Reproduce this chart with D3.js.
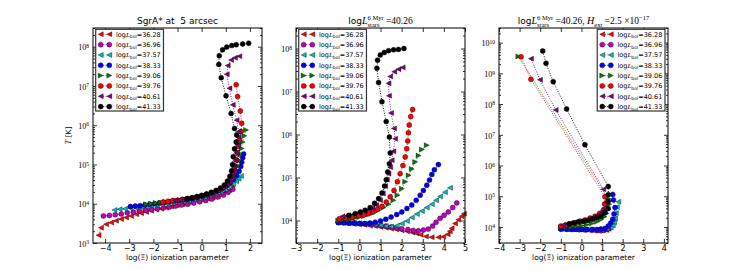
<!DOCTYPE html>
<html>
<head>
<meta charset="utf-8">
<script src="https://cdn.jsdelivr.net/npm/d3@7"></script>
<style>
body { margin: 0; background: #fff; }
svg { display: block; }
</style>
</head>
<body>
<div id="chart"></div>
<script>
var chart_width  = 743;
var chart_height = 270;

// legend values, log L_bol
var lbol_labels = ['36.28', '36.96', '37.57', '38.33', '39.06', '39.76', '40.61', '41.33'];

// every curve is a list of [log(Xi), log10(T)]
// panel 1 : SgrA* at 5 arcsec
var sgr_curves = [
    [[-4.27,3.20],[-4.17,3.39],[-3.96,3.48],[-3.75,3.52],[-3.55,3.57],[-3.34,3.61],[-3.13,3.65],[-2.92,3.69],[-2.71,3.73],[-2.51,3.76],[-2.30,3.79],[-2.09,3.82],[-1.88,3.85],[-1.68,3.87],[-1.47,3.90],[-1.26,3.93],[-1.03,3.96],[-0.79,3.99],[-0.58,4.02],[-0.37,4.04],[-0.16,4.07],[0.04,4.10],[0.25,4.13],[0.46,4.16],[0.67,4.20],[0.87,4.25],[1.02,4.30],[1.15,4.35],[1.25,4.42]],
    [[-4.07,3.69],[-3.82,3.70],[-3.58,3.72],[-3.33,3.74],[-3.08,3.77],[-2.83,3.79],[-2.58,3.82],[-2.33,3.84],[-2.08,3.86],[-1.83,3.88],[-1.58,3.90],[-1.33,3.92],[-1.08,3.94],[-0.83,3.97],[-0.58,3.99],[-0.33,4.02],[-0.08,4.05],[0.17,4.08],[0.42,4.12],[0.67,4.17],[0.90,4.22],[1.10,4.29],[1.29,4.37]],
    [[-3.61,3.84],[-3.40,3.86],[-3.18,3.87],[-2.96,3.89],[-2.74,3.90],[-2.52,3.92],[-2.30,3.93],[-2.08,3.95],[-1.86,3.96],[-1.64,3.98],[-1.42,3.99],[-1.20,4.01],[-0.98,4.03],[-0.76,4.05],[-0.54,4.07],[-0.32,4.10],[-0.10,4.13],[0.12,4.16],[0.34,4.20],[0.56,4.25],[0.78,4.30],[0.98,4.36],[1.15,4.43],[1.30,4.50],[1.43,4.57],[1.53,4.64],[1.63,4.71]],
    [[-2.95,3.93],[-2.75,3.94],[-2.55,3.95],[-2.35,3.97],[-2.15,3.99],[-1.95,4.00],[-1.75,4.02],[-1.55,4.03],[-1.35,4.05],[-1.15,4.07],[-0.95,4.08],[-0.75,4.10],[-0.55,4.12],[-0.35,4.14],[-0.15,4.17],[0.05,4.20],[0.25,4.23],[0.45,4.27],[0.65,4.32],[0.85,4.38],[1.02,4.45],[1.18,4.53],[1.32,4.62],[1.45,4.72],[1.55,4.83],[1.62,4.95],[1.66,5.06],[1.70,5.17],[1.74,5.27]],
    [[-2.30,3.99],[-2.10,4.00],[-1.90,4.02],[-1.70,4.03],[-1.50,4.05],[-1.30,4.06],[-1.10,4.08],[-0.90,4.09],[-0.70,4.11],[-0.50,4.13],[-0.30,4.15],[-0.10,4.18],[0.10,4.21],[0.30,4.24],[0.50,4.28],[0.70,4.33],[0.88,4.39],[1.05,4.47],[1.20,4.57],[1.33,4.69],[1.43,4.82],[1.50,4.96],[1.55,5.10],[1.60,5.25],[1.65,5.41],[1.70,5.57],[1.77,5.73],[1.84,5.88]],
    [[-1.61,4.04],[-1.40,4.06],[-1.20,4.08],[-1.00,4.09],[-0.80,4.11],[-0.60,4.13],[-0.40,4.15],[-0.20,4.18],[0.00,4.21],[0.20,4.24],[0.40,4.28],[0.60,4.33],[0.80,4.39],[0.97,4.46],[1.12,4.55],[1.24,4.66],[1.33,4.80],[1.39,4.95],[1.44,5.12],[1.48,5.30],[1.52,5.47],[1.57,5.63],[1.63,5.84],[1.66,6.05],[1.60,6.36],[1.49,6.73],[1.43,7.03]],
    [[-1.10,4.08],[-0.90,4.10],[-0.70,4.12],[-0.50,4.14],[-0.30,4.16],[-0.10,4.19],[0.10,4.22],[0.30,4.25],[0.50,4.29],[0.70,4.34],[0.88,4.41],[1.04,4.50],[1.17,4.62],[1.27,4.76],[1.34,4.92],[1.40,5.10],[1.45,5.30],[1.50,5.50],[1.53,5.70],[1.53,5.84],[1.45,6.13],[1.29,6.52],[1.15,6.94],[1.04,7.30],[1.08,7.52],[1.22,7.66],[1.38,7.72],[1.56,7.76]],
    [[-0.60,4.13],[-0.40,4.15],[-0.20,4.18],[0.00,4.21],[0.20,4.25],[0.40,4.29],[0.60,4.34],[0.78,4.40],[0.94,4.48],[1.07,4.58],[1.17,4.70],[1.24,4.84],[1.28,5.00],[1.31,5.20],[1.36,5.40],[1.43,5.57],[1.45,5.75],[1.36,5.92],[1.22,6.30],[1.01,6.75],[0.81,7.21],[0.71,7.55],[0.73,7.77],[0.87,7.92],[1.04,7.99],[1.25,8.03],[1.43,8.05],[1.70,8.07],[1.95,8.09]]
];

// panel 2 : log L_stars = 40.26
var stars_curves = [
    [[-1,3.95],[-0.75,3.94],[-0.5,3.93],[-0.25,3.92],[0,3.91],[0.25,3.90],[0.5,3.88],[0.75,3.87],[1,3.85],[1.25,3.83],[1.5,3.81],[1.75,3.79],[2,3.77],[2.25,3.75],[2.5,3.72],[2.7,3.70],[2.9,3.67],[3.15,3.63],[3.42,3.61],[3.74,3.61],[3.97,3.62],[4.18,3.68],[4.28,3.75],[4.37,3.82],[4.53,3.93],[4.68,4.02],[4.84,4.10],[4.95,4.16]],
    [[-1,3.96],[-0.75,3.95],[-0.5,3.94],[-0.25,3.935],[0,3.93],[0.25,3.92],[0.5,3.91],[0.75,3.90],[1,3.88],[1.25,3.87],[1.5,3.85],[1.75,3.83],[2,3.81],[2.3,3.79],[2.55,3.77],[2.79,3.76],[3.03,3.78],[3.26,3.80],[3.47,3.87],[3.63,3.96],[3.82,4.05],[4.01,4.12],[4.21,4.20],[4.42,4.30],[4.61,4.41]],
    [[-1,3.97],[-0.75,3.96],[-0.5,3.955],[-0.25,3.95],[0,3.94],[0.25,3.93],[0.5,3.92],[0.75,3.91],[1,3.89],[1.25,3.87],[1.5,3.86],[1.77,3.88],[2.01,3.93],[2.25,3.99],[2.48,4.07],[2.72,4.15],[2.96,4.22],[3.19,4.30],[3.43,4.38],[3.63,4.47],[3.82,4.56],[4.05,4.66],[4.29,4.76]],
    [[-1,3.95],[-0.75,3.95],[-0.5,3.94],[-0.25,3.94],[0,3.93],[0.25,3.93],[0.5,3.94],[0.75,3.96],[1,3.99],[1.25,4.03],[1.5,4.08],[1.77,4.14],[2.01,4.20],[2.25,4.28],[2.48,4.36],[2.69,4.47],[2.88,4.59],[3.03,4.70],[3.19,4.82],[3.32,4.94],[3.43,5.07],[3.55,5.18],[3.74,5.30]],
    [[-1,4.00],[-0.8,4.01],[-0.6,4.03],[-0.4,4.04],[-0.2,4.06],[0,4.08],[0.2,4.10],[0.43,4.14],[0.67,4.18],[0.91,4.24],[1.14,4.30],[1.38,4.38],[1.61,4.47],[1.80,4.59],[2.01,4.74],[2.17,4.90],[2.33,5.05],[2.48,5.20],[2.64,5.36],[2.80,5.51],[2.96,5.65],[3.19,5.75]],
    [[-0.95,4.04],[-0.67,4.05],[-0.35,4.08],[-0.04,4.11],[0.2,4.13],[0.43,4.16],[0.64,4.20],[0.86,4.26],[1.07,4.33],[1.27,4.43],[1.46,4.55],[1.64,4.70],[1.80,4.90],[1.93,5.09],[2.06,5.28],[2.17,5.48],[2.24,5.67],[2.29,5.85],[2.32,6.04],[2.36,6.22],[2.43,6.42],[2.52,6.58]],
    [[-0.8,4.10],[-0.52,4.12],[-0.25,4.15],[0,4.18],[0.25,4.22],[0.45,4.25],[0.62,4.29],[0.80,4.36],[0.98,4.47],[1.11,4.63],[1.22,4.80],[1.30,4.95],[1.38,5.09],[1.46,5.24],[1.53,5.40],[1.61,5.61],[1.69,5.90],[1.64,6.14],[1.50,6.50],[1.40,6.90],[1.38,7.19],[1.46,7.35],[1.65,7.46],[1.85,7.52],[2.05,7.56]],
    [[-0.5,4.12],[-0.2,4.16],[0.04,4.20],[0.27,4.24],[0.51,4.30],[0.72,4.40],[0.91,4.51],[1.07,4.64],[1.19,4.80],[1.27,4.95],[1.34,5.13],[1.42,5.32],[1.46,5.57],[1.42,5.94],[1.27,6.30],[1.07,6.76],[0.91,7.21],[0.83,7.54],[0.86,7.73],[0.99,7.85],[1.18,7.91],[1.38,7.95],[1.62,7.97],[1.85,7.98],[2.11,8.00]]
];

// panel 3 : log L_stars = 40.26, H_ext = 2.5e-17
var hext_curves = [
    [[-1,3.93],[-0.75,3.93],[-0.5,3.92],[-0.25,3.92],[0,3.91],[0.25,3.91],[0.5,3.90],[0.75,3.90],[1.0,3.89],[1.2,3.90],[1.32,3.94]],
    [[-1,3.93],[-0.7,3.92],[-0.4,3.92],[-0.1,3.91],[0.2,3.90],[0.5,3.89],[0.75,3.88],[0.95,3.88],[1.1,3.89],[1.25,3.92],[1.35,3.97]],
    [[-1,3.95],[-0.7,3.94],[-0.4,3.93],[-0.1,3.93],[0.2,3.92],[0.5,3.92],[0.8,3.92],[1.05,3.93],[1.25,3.95],[1.42,3.98],[1.52,4.05],[1.58,4.15],[1.63,4.28],[1.67,4.45],[1.72,4.65],[1.79,4.82]],
    [[-1,3.93],[-0.75,3.93],[-0.5,3.92],[-0.25,3.92],[0,3.92],[0.25,3.92],[0.5,3.92],[0.75,3.92],[0.95,3.93],[1.14,3.95],[1.30,4.03],[1.42,4.13],[1.52,4.25],[1.58,4.42],[1.63,4.63],[1.55,4.88],[1.52,5.06]],
    [[-1,3.98],[-0.75,3.99],[-0.5,4.00],[-0.25,4.02],[0,4.04],[0.25,4.07],[0.5,4.11],[0.75,4.17],[0.95,4.24],[1.12,4.33],[1.22,4.44],[1.30,4.57],[1.35,4.74],[1.30,4.92],[-3.06,9.55]],
    [[-1,4.03],[-0.77,4.06],[-0.56,4.09],[-0.31,4.14],[-0.07,4.19],[0.17,4.23],[0.42,4.29],[0.66,4.35],[0.88,4.44],[1.06,4.55],[1.12,4.75],[1.14,4.98],[-2.45,8.81],[-2.93,9.54]],
    [[-0.9,4.06],[-0.65,4.09],[-0.4,4.12],[-0.15,4.16],[0.1,4.21],[0.35,4.26],[0.6,4.32],[0.82,4.40],[1.0,4.50],[1.12,4.62],[1.20,4.80],[1.06,5.23],[-1.25,7.81],[-2.01,8.79],[-2.45,9.48]],
    [[-0.6,4.10],[-0.4,4.13],[-0.17,4.16],[0.08,4.18],[0.31,4.21],[0.53,4.25],[0.74,4.30],[0.95,4.35],[1.14,4.46],[1.30,4.60],[1.30,4.84],[1.30,5.05],[1.30,5.32],[0.17,6.68],[-0.72,7.84],[-1.37,8.73],[-1.72,9.33],[-1.88,9.73]]
];

var x_ticks_1 = [-4, -3, -2, -1, 0, 1, 2];
var x_ticks_2 = [-3, -2, -1, 0, 1, 2, 3, 4, 5];
var x_ticks_3 = [-4, -3, -2, -1, 0, 1, 2, 3, 4];
// exponents of the labelled y ticks
var y_ticks_1 = [3, 4, 5, 6, 7, 8];
var y_ticks_2 = [4, 5, 6, 7, 8];
var y_ticks_3 = [4, 5, 6, 7, 8, 9, 10];

var colors  = ['#ff0000', '#bf00bf', '#00bfbf', '#0000ff', '#008000', '#ff0000', '#800080', '#000000'];
var markers = ['left', 'circle', 'left', 'circle', 'right', 'circle', 'left', 'circle'];

var SANS  = 'DejaVu Sans';
var SERIF = 'Liberation Serif';

var top_y = 28, bottom_y = 243, panel_w = 169;
var mk = 2.5;

var lstars = [{t: 'log', sz: 9}, {t: 'L', fam: SERIF, it: true, sz: 10},
              {stack: [{t: '6 Myr', fam: SERIF, sz: 6.5, dy: -4}, {t: 'stars', fam: SERIF, sz: 6.5, dy: 2.5}]},
              {t: ' =40.26', fam: SERIF, sz: 9.5}];

var panels = [
    {curves: sgr_curves, left: 93, x_dom: [-4.5, 2.5], y_dom: [1e3, 3e8],
     x_ticks: x_ticks_1, y_ticks: y_ticks_1, legend: 'left', y_label: true,
     title: [{t: 'SgrA* at  5 arcsec', sz: 9}]},
    {curves: stars_curves, left: 296, x_dom: [-3, 5], y_dom: [3e3, 3e8],
     x_ticks: x_ticks_2, y_ticks: y_ticks_2, legend: 'left', y_label: false,
     title: lstars},
    {curves: hext_curves, left: 499, x_dom: [-4, 4.2], y_dom: [3e3, 3e10],
     x_ticks: x_ticks_3, y_ticks: y_ticks_3, legend: 'right', y_label: false,
     title: lstars.slice(0, 3).concat([{t: ' =40.26, ', fam: SERIF, sz: 9.5}, {t: 'H', fam: SERIF, it: true, sz: 10},
             {stack: [{t: 'ext', fam: SERIF, sz: 6.5, dy: 2.5}]}, {t: ' =2.5 \u00d710', fam: SERIF, sz: 9.5},
             {stack: [{t: '\u221217', fam: SERIF, sz: 6.5, dy: -4}]}])}
];

var svg = d3.select('#chart')
            .append('svg')
            .attr('width', chart_width)
            .attr('height', chart_height);

// lays text pieces out left to right, stacked pieces share one x
function rich(g, pieces, x, y, anchor) {
    var grp = g.append('g');
    var cx = 0;
    pieces.forEach(function(p) {
        var parts = p.stack ? p.stack : [p];
        var w = 0;
        parts.forEach(function(q) {
            var t = grp.append('text')
                .attr('x', cx)
                .attr('y', q.dy || 0)
                .style('font-family', q.fam || SANS)
                .style('font-size', q.sz + 'px')
                .style('font-style', q.it ? 'italic' : 'normal')
                .style('white-space', 'pre')
                .attr('fill', '#000')
                .text(q.t);
            w = Math.max(w, t.node().getComputedTextLength());
        });
        cx += w;
    });
    var off = anchor === 'middle' ? -cx / 2 : (anchor === 'end' ? -cx : 0);
    grp.attr('transform', 'translate(' + (x + off) + ',' + y + ')');
    return cx;
}

function marker_path(kind, s) {
    if (kind === 'left')  return 'M' + (-s) + ',0L' + s + ',' + (-s) + 'L' + s + ',' + s + 'Z';
    if (kind === 'right') return 'M' + s + ',0L' + (-s) + ',' + (-s) + 'L' + (-s) + ',' + s + 'Z';
    return null;
}

function draw_marker(g, kind, color, x, y) {
    if (kind === 'circle') {
        g.append('circle').attr('cx', x).attr('cy', y).attr('r', mk)
            .attr('fill', color).attr('stroke', '#000').attr('stroke-width', 0.4);
    } else {
        g.append('path').attr('d', marker_path(kind, mk))
            .attr('transform', 'translate(' + x + ',' + y + ')')
            .attr('fill', color).attr('stroke', '#000').attr('stroke-width', 0.4);
    }
}

panels.forEach(function(p) {
    var g = svg.append('g');
    var x_scale = d3.scaleLinear().domain(p.x_dom).range([p.left, p.left + panel_w]);
    var y_scale = d3.scaleLog().domain(p.y_dom).range([bottom_y, top_y]);

    // minor ticks 2..9 of every decade
    var minor = [];
    for (var e = Math.floor(Math.log10(p.y_dom[0])); e <= Math.ceil(Math.log10(p.y_dom[1])); e++) {
        for (var k = 2; k <= 9; k++) {
            var v = k * Math.pow(10, e);
            if (v >= p.y_dom[0] && v <= p.y_dom[1]) minor.push(v);
        }
    }
    var major = p.y_ticks.map(function(d) { return Math.pow(10, d); });

    g.append('g').attr('transform', 'translate(0,' + bottom_y + ')')
        .call(d3.axisBottom(x_scale).tickValues(p.x_ticks).tickSizeInner(-4).tickSizeOuter(0).tickPadding(2.5).tickFormat(d3.format('d')));
    g.append('g').attr('transform', 'translate(0,' + top_y + ')')
        .call(d3.axisTop(x_scale).tickValues(p.x_ticks).tickSizeInner(-4).tickSizeOuter(0).tickFormat(''));

    var y_left = g.append('g').attr('transform', 'translate(' + p.left + ',0)')
        .call(d3.axisLeft(y_scale).tickValues(major).tickSizeInner(-4).tickSizeOuter(0).tickPadding(4).tickFormat(''));
    g.append('g').attr('transform', 'translate(' + p.left + ',0)')
        .call(d3.axisLeft(y_scale).tickValues(minor).tickSizeInner(-2).tickSizeOuter(0).tickFormat(''));
    g.append('g').attr('transform', 'translate(' + (p.left + panel_w) + ',0)')
        .call(d3.axisRight(y_scale).tickValues(major).tickSizeInner(-4).tickSizeOuter(0).tickFormat(''));
    g.append('g').attr('transform', 'translate(' + (p.left + panel_w) + ',0)')
        .call(d3.axisRight(y_scale).tickValues(minor).tickSizeInner(-2).tickSizeOuter(0).tickFormat(''));

    g.selectAll('.domain').remove();
    g.selectAll('.tick line').attr('stroke', '#000').attr('stroke-width', 0.8);
    g.selectAll('.tick text').attr('fill', '#000')
        .style('font-family', SANS).style('font-size', '8px');

    // 10^n labels
    y_left.selectAll('.tick text').each(function(d) {
        var t = d3.select(this).style('font-family', SERIF).style('font-size', '8px').attr('dy', '0.4em');
        t.append('tspan').text('10');
        t.append('tspan').attr('dy', '-0.45em').style('font-size', '5.5px').text(Math.round(Math.log10(d)));
    });

    // curves
    var line = d3.line()
        .x(function(d) { return x_scale(d[0]); })
        .y(function(d) { return y_scale(Math.pow(10, d[1])); });

    p.curves.forEach(function(c, i) {
        g.append('path').datum(c).attr('d', line)
            .attr('fill', 'none').attr('stroke', colors[i])
            .attr('stroke-width', 0.9).attr('stroke-dasharray', '1,1.5');
    });
    p.curves.forEach(function(c, i) {
        var mg = g.append('g');
        c.forEach(function(d) {
            draw_marker(mg, markers[i], colors[i], x_scale(d[0]), y_scale(Math.pow(10, d[1])));
        });
    });

    // frame
    g.append('rect').attr('x', p.left).attr('y', top_y)
        .attr('width', panel_w).attr('height', bottom_y - top_y)
        .attr('fill', 'none').attr('stroke', '#000').attr('stroke-width', 1);

    // title and axis labels
    rich(g, p.title, p.left + panel_w / 2, 24, 'middle');
    rich(g, [{t: 'log(\u039e) ionization parameter', sz: 7.5}], p.left + panel_w / 2, 260, 'middle');
    if (p.y_label) {
        var yl = g.append('g').attr('transform', 'translate(71,' + ((top_y + bottom_y) / 2) + ') rotate(-90)');
        rich(yl, [{t: 'T', fam: SERIF, it: true, sz: 8.5}, {t: ' [K]', sz: 7.5}], 0, 0, 'middle');
    }

    // legend
    var lg = g.append('g');
    var frame = lg.append('rect');
    var row0 = top_y + 6.3, step = 10.33;
    var widths = [];
    var texts = lg.append('g');
    lbol_labels.forEach(function(lab, i) {
        widths.push(rich(texts, [{t: 'log', sz: 6.5}, {t: 'L', fam: SERIF, it: true, sz: 7},
            {stack: [{t: 'bol', sz: 4.5, dy: 1.6}]}, {t: '=' + lab, sz: 6.5}], 20.3, row0 + i * step + 2.3, 'start'));
    });
    var lw = 20.3 + d3.max(widths) + 2.7;
    var lx = p.legend === 'left' ? p.left + 2.7 : p.left + panel_w - 3 - lw;
    texts.attr('transform', 'translate(' + lx + ',0)');
    frame.attr('x', lx).attr('y', top_y + 1.3).attr('width', lw).attr('height', 81.7)
        .attr('fill', '#fff').attr('stroke', '#333').attr('stroke-width', 1.2);
    lbol_labels.forEach(function(lab, i) {
        var yy = row0 + i * step;
        lg.append('line').attr('x1', lx + 5).attr('x2', lx + 13.6).attr('y1', yy).attr('y2', yy)
            .attr('stroke', colors[i]).attr('stroke-width', 0.9).attr('stroke-dasharray', '1,1.5');
        draw_marker(lg, markers[i], colors[i], lx + 5, yy);
        draw_marker(lg, markers[i], colors[i], lx + 13.6, yy);
    });
});
</script>
</body>
</html>
